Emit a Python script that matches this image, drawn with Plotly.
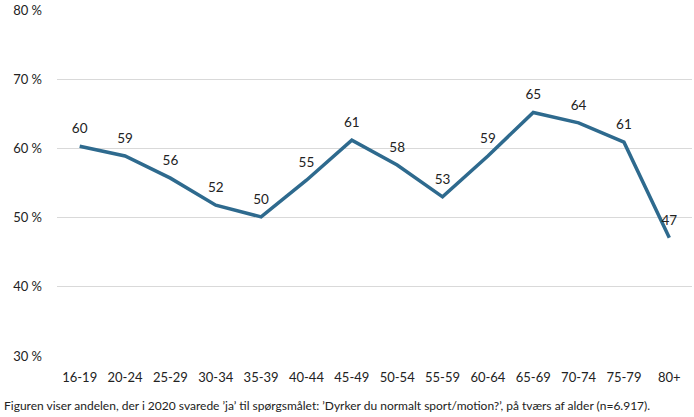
import plotly.graph_objects as go

categories = ["16-19", "20-24", "25-29", "30-34", "35-39", "40-44", "45-49",
              "50-54", "55-59", "60-64", "65-69", "70-74", "75-79", "80+"]
values = [60.3, 58.9, 55.7, 51.8, 50.1, 55.4, 61.2, 57.6, 53.0, 58.9, 65.2, 63.7, 60.9, 47.1]
labels = ["60", "59", "56", "52", "50", "55", "61", "58", "53", "59", "65", "64", "61", "47"]
y_ticks = [30, 40, 50, 60, 70, 80]
y_ticklabels = ["30 %", "40 %", "50 %", "60 %", "70 %", "80 %"]
caption = "Figuren viser andelen, der i 2020 svarede \u2019ja\u2019 til spørgsmålet: \u2019Dyrker du normalt sport/motion?\u2019, på tværs af alder (n=6.917)."

font_family = "Lato, Open Sans, sans-serif"

fig = go.Figure()
fig.add_trace(go.Scatter(
    x=categories, y=values, mode="lines+markers+text",
    line=dict(color="#2E6A8E", width=3.5),
    marker=dict(size=14, opacity=0, color="#2E6A8E"),
    text=labels, textposition="top center",
    textfont=dict(size=13.5, color="#222222", family=font_family),
    cliponaxis=False, hoverinfo="skip",
))
fig.update_layout(
    width=694, height=417,
    margin=dict(l=57, r=2, t=10, b=61),
    paper_bgcolor="white", plot_bgcolor="white",
    showlegend=False,
    font=dict(family=font_family, color="#222222"),
    annotations=[dict(
        text=caption, xref="paper", yref="paper", x=-55/635, y=-49/346,
        xanchor="left", yanchor="middle", showarrow=False,
        font=dict(size=12, color="#222222", family=font_family),
    )],
)
fig.update_xaxes(
    type="category", range=[-0.5, 13.5], showgrid=False, zeroline=False,
    showline=False, ticks="", tickfont=dict(size=13, color="#222222"),
    ticklabelstandoff=12,
)
fig.update_yaxes(
    range=[30, 80], tickvals=y_ticks, ticktext=y_ticklabels,
    showgrid=True, gridcolor="#D9D9D9", gridwidth=1, zeroline=False,
    showline=False, ticks="", tickfont=dict(size=13, color="#222222"),
    ticklabelstandoff=14,
)
fig.write_html("out.html", config={"displayModeBar": False},
               post_script="document.body.style.margin='0';")
